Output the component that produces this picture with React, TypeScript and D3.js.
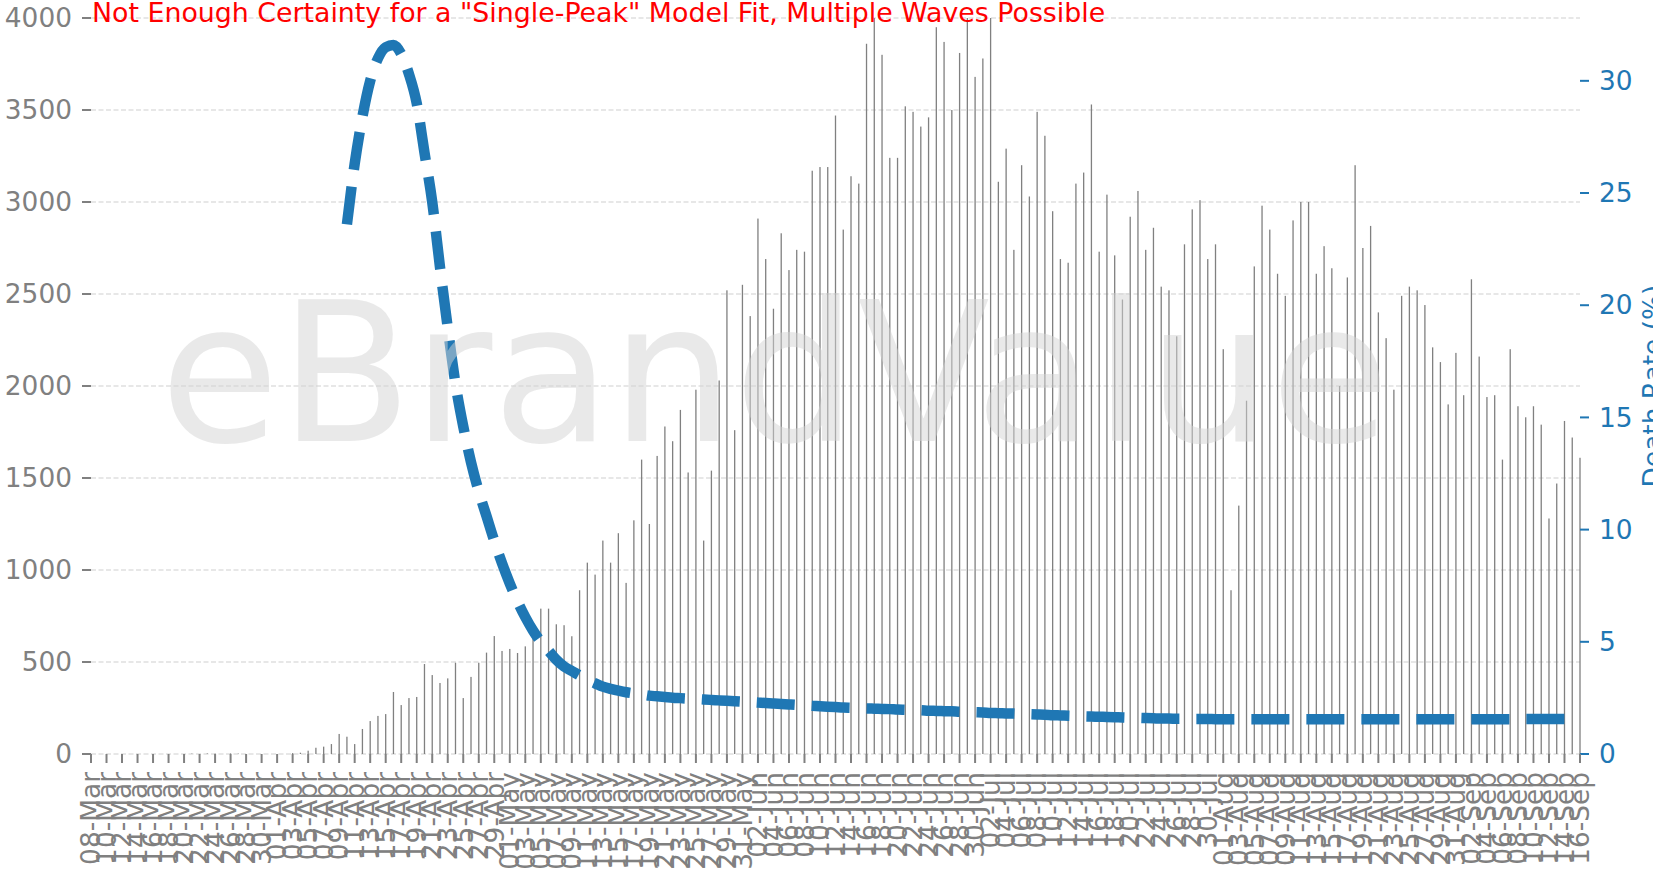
import React, { useEffect, useRef } from 'react';
import * as d3 from 'd3';

const W = 1653;
const H = 873;

// category axis: one bar per day, 08-Mar .. 16-Sep
const dates = d3.timeDay
  .range(new Date(2020, 2, 8), new Date(2020, 8, 17))
  .map(d3.timeFormat('%d-%b'));

// daily deaths (left axis)
const dailyDeaths = [
  0, 0, 0, 0, 0, 0, 0, 0, 0, 0, 0, 0, 0, 2, 0, 3, 2, 0, 3, 2,
  0, 0, 0, 0, 0, 0, 5, 7, 18, 34, 40, 54, 109, 94, 54, 136, 179, 207, 217, 337,
  266, 304, 310, 489, 429, 386, 411, 496, 304, 419, 496, 551, 641, 560, 571, 549, 585, 650, 790, 790,
  705, 700, 640, 890, 1040, 975, 1160, 1040, 1200, 930, 1270, 1600, 1250, 1620, 1780, 1700, 1870, 1530, 1980, 1160,
  1540, 2030, 2520, 1760, 2550, 2380, 2910, 2690, 2420, 2830, 2630, 2740, 2730, 3170, 3190, 3190, 3470, 2850, 3140, 3100,
  3860, 4050, 3800, 3240, 3240, 3520, 3490, 3410, 3460, 3950, 3870, 3500, 3810, 4050, 3680, 3780, 4050, 3110, 3290, 2740,
  3200, 3030, 3490, 3360, 2950, 2690, 2670, 3100, 3160, 3530, 2730, 3040, 2710, 2470, 2920, 3060, 2740, 2860, 2540, 2520,
  2270, 2770, 2960, 3010, 2690, 2770, 2200, 890, 1350, 1920, 2650, 2980, 2850, 2610, 2490, 2900, 3000, 3000, 2610, 2760,
  2640, 2000, 2590, 3200, 2750, 2870, 2400, 2260, 1980, 2490, 2540, 2520, 2440, 2210, 2130, 1900, 2180, 1950, 2580, 2160,
  1940, 1950, 1600, 2200, 1890, 1830, 1890, 1790, 1280, 1470, 1810, 1720, 1610,
];

// fitted death rate (%) on the right axis, from 10-Apr onwards
const rateStart = '10-Apr';
const deathRate = [
  23.6, 26.3, 28.4, 30.0, 31.0, 31.5, 31.6, 31.2, 30.3, 29.0,
  26.8, 24.6, 21.7, 19.0, 16.5, 14.6, 13.0, 11.7, 10.6, 9.5,
  8.5, 7.6, 6.8, 6.1, 5.5, 5.0, 4.6, 4.2, 3.9, 3.7,
  3.5, 3.3, 3.15, 3.0, 2.9, 2.82, 2.75, 2.7, 2.65, 2.6,
  2.57, 2.54, 2.51, 2.49, 2.47, 2.45, 2.43,
  2.41, 2.39, 2.37, 2.35, 2.33, 2.31, 2.29, 2.27, 2.25, 2.23,
  2.21, 2.19, 2.17, 2.15, 2.13, 2.11, 2.09, 2.07, 2.06, 2.05,
  2.03, 2.02, 2.01, 2.0, 1.98, 1.97, 1.96, 1.95, 1.93, 1.92,
  1.91, 1.9, 1.88, 1.87, 1.86, 1.85, 1.83, 1.82, 1.81, 1.8,
  1.78, 1.77, 1.76, 1.75, 1.73, 1.72, 1.71, 1.7, 1.68, 1.67,
  1.66, 1.65, 1.64, 1.63, 1.62, 1.61, 1.6, 1.59, 1.58, 1.58,
  1.57, 1.57, 1.56, 1.56, 1.56, 1.55, 1.55, 1.55, 1.55, 1.55,
  1.55, 1.55, 1.55, 1.55, 1.55, 1.55, 1.55, 1.55, 1.55, 1.55,
  1.55, 1.55, 1.55, 1.55, 1.55, 1.55, 1.55, 1.55, 1.55, 1.55,
  1.55, 1.55, 1.55, 1.55, 1.55, 1.55, 1.55, 1.55, 1.55, 1.55,
  1.55, 1.55, 1.55, 1.55, 1.56, 1.56, 1.56, 1.56, 1.56, 1.56,
  1.56, 1.56, 1.56,
];

const leftTicks = [0, 500, 1000, 1500, 2000, 2500, 3000, 3500, 4000];
const rightTicks = [0, 5, 10, 15, 20, 25, 30];
const title = 'Not Enough Certainty for a "Single-Peak" Model Fit, Multiple Waves Possible';
const watermark = 'eBrandValue';
const rightLabel = 'Death Rate (%)';

const FONT = '"DejaVu Sans", sans-serif';
const BLUE = '#1f77b4';
const GRAY = '#808080';
const FS = '26.4px';

export default function App() {
  const svgRef = useRef<SVGSVGElement>(null);

  useEffect(() => {
    const svg = d3.select(svgRef.current);
    svg.selectAll('*').remove();

    const left = 91, right = 1580, top = 18, bottom = 754;

    const x = d3.scalePoint<string>().domain(dates).range([left, right]);
    const y = d3.scaleLinear().domain([0, 4000]).range([bottom, top]);
    const y2 = d3.scaleLinear().domain([0, 32.8]).range([bottom, top]);

    svg.append('defs').append('clipPath').attr('id', 'plot')
      .append('rect').attr('x', left - 5).attr('y', top).attr('width', right - left + 10).attr('height', bottom - top + 1);

    // grid
    svg.append('g').selectAll('line').data(leftTicks).join('line')
      .attr('x1', left).attr('x2', right)
      .attr('y1', d => y(d)).attr('y2', d => y(d))
      .attr('stroke', '#cfcfcf').attr('stroke-width', 1.2).attr('stroke-dasharray', '5,2.5');

    // bars
    const rows = dates.map((d, i) => ({ d, v: dailyDeaths[i] ?? 0 }));
    svg.append('g').attr('clip-path', 'url(#plot)')
      .selectAll('rect').data(rows).join('rect')
      .attr('x', r => x(r.d)! - 0.65)
      .attr('width', 1.3)
      .attr('y', r => y(r.v))
      .attr('height', r => bottom - y(r.v))
      .attr('fill', GRAY);

    // death rate line
    const i0 = dates.indexOf(rateStart);
    const pts = deathRate.map((v, k) => [x(dates[i0 + k])!, y2(v)] as [number, number]);
    svg.append('path')
      .attr('d', d3.line().curve(d3.curveMonotoneX)(pts))
      .attr('fill', 'none').attr('stroke', BLUE).attr('stroke-width', 10.5)
      .attr('stroke-dasharray', '38,17');

    // left axis
    const la = svg.append('g');
    la.selectAll('line').data(leftTicks).join('line')
      .attr('x1', left - 9).attr('x2', left).attr('y1', d => y(d)).attr('y2', d => y(d))
      .attr('stroke', GRAY).attr('stroke-width', 2);
    la.selectAll('text').data(leftTicks).join('text')
      .attr('x', left - 19).attr('y', d => y(d)).attr('dy', '0.35em')
      .attr('text-anchor', 'end').attr('fill', GRAY)
      .style('font-family', FONT).style('font-size', FS)
      .text(d => d);

    // right axis
    const ra = svg.append('g');
    ra.selectAll('line').data(rightTicks).join('line')
      .attr('x1', right).attr('x2', right + 9).attr('y1', d => y2(d)).attr('y2', d => y2(d))
      .attr('stroke', BLUE).attr('stroke-width', 2);
    ra.selectAll('text').data(rightTicks).join('text')
      .attr('x', right + 19).attr('y', d => y2(d)).attr('dy', '0.35em')
      .attr('fill', BLUE)
      .style('font-family', FONT).style('font-size', FS)
      .text(d => d);
    ra.append('text')
      .attr('transform', `translate(${right + 82},${(top + bottom) / 2}) rotate(-90)`)
      .attr('text-anchor', 'middle').attr('fill', BLUE)
      .style('font-family', FONT).style('font-size', FS)
      .text(rightLabel);

    // x axis: every second day
    const shown = dates.filter((_, i) => i % 2 === 0);
    const xa = svg.append('g');
    xa.selectAll('line').data(shown).join('line')
      .attr('x1', d => x(d)!).attr('x2', d => x(d)!).attr('y1', bottom).attr('y2', bottom + 9)
      .attr('stroke', GRAY).attr('stroke-width', 2);
    xa.selectAll('text').data(shown).join('text')
      .attr('transform', d => `translate(${x(d)},${bottom + 18}) rotate(-90)`)
      .attr('text-anchor', 'end').attr('dy', '0.35em').attr('fill', GRAY)
      .style('font-family', FONT).style('font-size', FS)
      .text(d => d);

    // watermark over everything
    svg.append('text')
      .attr('x', 160).attr('y', 441)
      .attr('fill', '#d3d3d3').attr('fill-opacity', 0.5)
      .style('font-family', FONT).style('font-size', '194px')
      .text(watermark);

    svg.append('text')
      .attr('x', 92).attr('y', 22)
      .attr('fill', '#ff0000')
      .style('font-family', FONT).style('font-size', '26.8px')
      .text(title);
  }, []);

  return (
    <div style={{ position: 'absolute', left: 0, top: 0, width: W, height: H, background: '#fff' }}>
      <svg ref={svgRef} width={W} height={H} style={{ display: 'block' }} />
    </div>
  );
}
